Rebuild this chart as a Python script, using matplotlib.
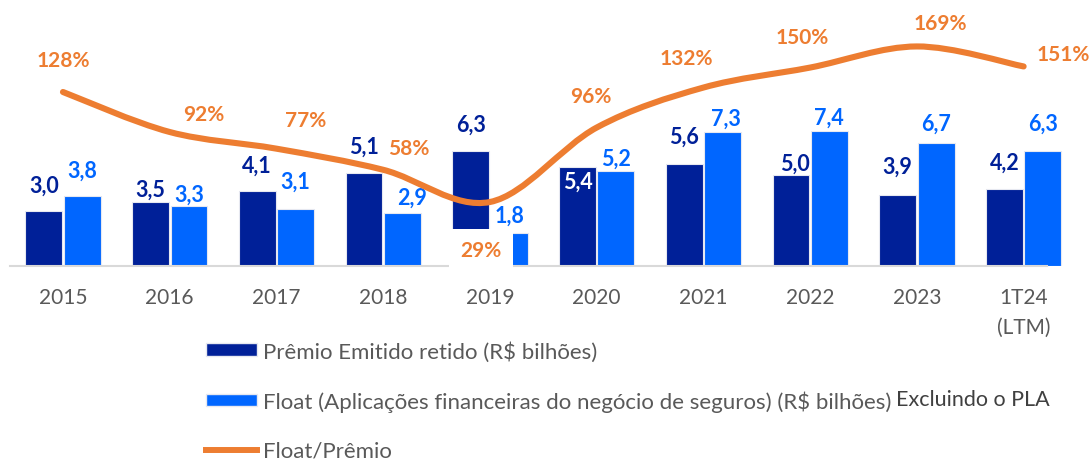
import numpy as np
import matplotlib.pyplot as plt
from matplotlib.path import Path
from matplotlib.patches import PathPatch, Patch
from matplotlib.lines import Line2D

plt.rcParams['font.family'] = ['Lato', 'DejaVu Sans']

# --- dados ---
categorias = ['2015', '2016', '2017', '2018', '2019', '2020', '2021', '2022', '2023', '1T24\n(LTM)']
premio = [3.0, 3.5, 4.1, 5.1, 6.3, 5.4, 5.6, 5.0, 3.9, 4.2]
float_seg = [3.8, 3.3, 3.1, 2.9, 1.8, 5.2, 7.3, 7.4, 6.7, 6.3]
float_premio = [128, 92, 77, 58, 29, 96, 132, 150, 169, 151]

lbl_premio = 'Prêmio Emitido retido (R$ bilhões)'
lbl_float = 'Float (Aplicações financeiras do negócio de seguros) (R$ bilhões)'
lbl_ratio = 'Float/Prêmio'

# --- estilo ---
c_navy = '#002098'
c_blue = '#0066FF'
c_orange = '#ED7D31'
c_gray = '#595959'

# deslocamentos dos rótulos (pixels)
prem_dx = [0, 0, 0, 0, 0, 0, 0, 4, 0, 0]
prem_dy = [26, 13, 26, 26, 27, -14, 27, 11, 28, 27]
float_dx = [0, 0, 0, 10, 0, 0, 3, 0, 0, 0]
float_dy = [26, 11, 28, 16, 18, 13, 14, 13, 20, 28]
pct_dx = [0, 34, 29, 26, -9, -6, -17, -8, 23, 40]
pct_dy = [32, 18, 29, 22, -48, 32, 30, 31, 23, 12]

fig = plt.figure(figsize=(10.92, 4.6), dpi=100)
ax = fig.add_axes([9.6 / 1092, 1 - 267 / 460, 1067.4 / 1092, 262 / 460])
ax2 = ax.twinx()

x = np.arange(len(categorias))
w = 0.345
ax.bar(x - 0.18, premio, w, color=c_navy, edgecolor='#E6E8F0', linewidth=0.8, zorder=2)
ax.bar(x + 0.18, float_seg, w, color=c_blue, edgecolor='#E6E8F0', linewidth=0.8, zorder=2)
ax.set_xlim(-0.5, 9.5)
ax.set_ylim(0, 262 / 18.3)

for i in range(len(x)):
    col = 'white' if i == 5 else c_navy
    ax.annotate(f'{premio[i]:.1f}'.replace('.', ','), (x[i] - 0.18, premio[i]),
                xytext=(prem_dx[i], prem_dy[i]), textcoords='offset pixels',
                ha='center', va='center', fontsize=15.5, fontweight='bold', color=col, zorder=5)
    ax.annotate(f'{float_seg[i]:.1f}'.replace('.', ','), (x[i] + 0.18, float_seg[i]),
                xytext=(float_dx[i], float_dy[i]), textcoords='offset pixels',
                ha='center', va='center', fontsize=15.5, fontweight='bold', color=c_blue, zorder=5)

# linha suavizada (curvas de Bezier entre os pontos)
ys = np.array(float_premio, dtype=float)
pts = np.column_stack([x, ys])
verts = [pts[0]]
codes = [Path.MOVETO]
n = len(pts)
for i in range(n - 1):
    p0 = pts[max(i - 1, 0)]
    p1 = pts[i]
    p2 = pts[i + 1]
    p3 = pts[min(i + 2, n - 1)]
    verts += [p1 + (p2 - p0) / 6, p2 - (p3 - p1) / 6, p2]
    codes += [Path.CURVE4] * 3
ax2.add_patch(PathPatch(Path(verts, codes), facecolor='none', edgecolor=c_orange,
                        lw=4.4, capstyle='round', joinstyle='round', zorder=3))
ax2.set_ylim(-28.6, 207.2)

for i in range(len(x)):
    box = dict(boxstyle='square,pad=0.55', fc='white', ec='none') if i == 4 else None
    ax2.annotate(f'{float_premio[i]}%', (x[i], ys[i]), xytext=(pct_dx[i], pct_dy[i]),
                 textcoords='offset pixels', ha='center', va='center', fontsize=15,
                 fontweight='bold', color=c_orange, bbox=box, zorder=6)

for a in (ax, ax2):
    for s in ('top', 'right', 'left'):
        a.spines[s].set_visible(False)
    a.set_yticks([])
ax2.spines['bottom'].set_visible(False)
ax.spines['bottom'].set_color('#D9D9D9')
ax.spines['bottom'].set_linewidth(1.5)
ax.spines['bottom'].set_bounds(-0.5, 9.22)

ax.set_xticks(x)
ax.set_xticklabels(categorias, fontsize=15, color=c_gray, linespacing=1.65)
ax.tick_params(axis='x', length=0, pad=15)

handles = [Patch(facecolor=c_navy, edgecolor='#E6E8F0'),
           Patch(facecolor=c_blue, edgecolor='#E6E8F0'),
           Line2D([0], [0], color=c_orange, lw=4.3)]
leg = fig.legend(handles, [lbl_premio, lbl_float, lbl_ratio], loc='upper left',
                 bbox_to_anchor=(206 / 1092, 1 - 342 / 460), bbox_transform=fig.transFigure,
                 frameon=False, fontsize=16, handlelength=2.3, handleheight=0.5,
                 handletextpad=0.27, labelspacing=1.3, borderpad=0, borderaxespad=0)
for t in leg.get_texts():
    t.set_color(c_gray)

fig.text(896 / 1092, 1 - 400 / 460, 'Excluindo o PLA', fontsize=15.5, color='#404040',
         ha='left', va='center')

fig.savefig('out.png', dpi=100)
